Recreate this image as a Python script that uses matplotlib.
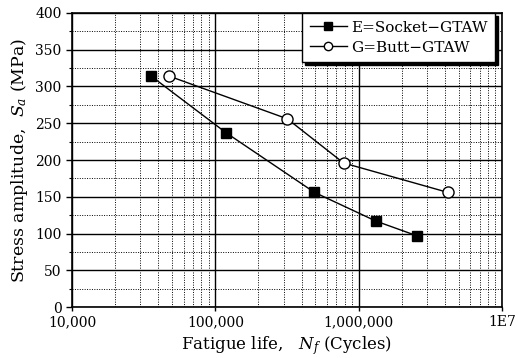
import matplotlib
matplotlib.use("Agg")
import matplotlib.pyplot as plt
from matplotlib.ticker import FixedLocator, LogLocator, NullFormatter, FixedFormatter

plt.rcParams['font.family'] = ['DejaVu Serif']
plt.rcParams['mathtext.fontset'] = 'dejavuserif'

socket_n = [35700, 119000, 492000, 1320000, 2550000]
socket_s = [314, 237, 156, 117, 97]
butt_n = [47700, 318000, 785000, 4190000]
butt_s = [314, 256, 196, 156]

xticks = [1e4, 1e5, 1e6, 1e7]
xticklabels = ["10,000", "100,000", "1,000,000", "1E7"]
yticks = list(range(0, 401, 50))

fig = plt.figure(figsize=(5.18, 3.58), dpi=100)
ax = fig.add_axes([0.139, 0.142, 0.830, 0.822])

ax.plot(socket_n, socket_s, '-s', color='black', lw=1.0, ms=7,
        mfc='black', mec='black', label='E=Socket\u2212GTAW', zorder=3)
ax.plot(butt_n, butt_s, '-o', color='black', lw=1.0, ms=8,
        mfc='white', mec='black', mew=1.0, label='G=Butt\u2212GTAW', zorder=3)

ax.set_xscale('log')
ax.set_xlim(1e4, 1e7)
ax.set_ylim(0, 400)
ax.xaxis.set_major_locator(FixedLocator(xticks))
ax.xaxis.set_major_formatter(FixedFormatter(xticklabels))
ax.xaxis.set_minor_locator(LogLocator(base=10, subs=range(2, 10)))
ax.xaxis.set_minor_formatter(NullFormatter())
ax.yaxis.set_major_locator(FixedLocator(yticks))
ax.yaxis.set_minor_locator(FixedLocator([25 + 50 * i for i in range(8)]))

ax.grid(which='major', color='black', lw=1.0, ls='-')
ax.grid(which='minor', color='black', lw=0.7, ls=(0, (1, 1.5)))
ax.set_axisbelow(True)

for sp in ax.spines.values():
    sp.set_linewidth(1.2)

ax.tick_params(which='major', direction='out', length=4, width=1, labelsize=10)
ax.tick_params(axis='x', which='major', length=3, pad=3)
ax.tick_params(axis='x', which='minor', length=0)
ax.tick_params(axis='y', which='minor', direction='out', length=2, width=0.8)

ax.set_xlabel('Fatigue life,   $N_f$ (Cycles)', fontsize=12, labelpad=3)
ax.set_ylabel('Stress amplitude,  $S_a$ (MPa)', fontsize=12.5, labelpad=4)

leg = ax.legend(loc='upper right', fontsize=11, frameon=True, fancybox=False,
                shadow={'color': 'black', 'alpha': 1},
                edgecolor='black',
                framealpha=1, borderpad=0.5, handlelength=2.4,
                handletextpad=0.3, labelspacing=0.4, markerscale=0.75,
                borderaxespad=0.0,
                bbox_to_anchor=(0.985, 1.0))
leg.get_frame().set_linewidth(1.0)

fig.savefig('out.png', dpi=100)
